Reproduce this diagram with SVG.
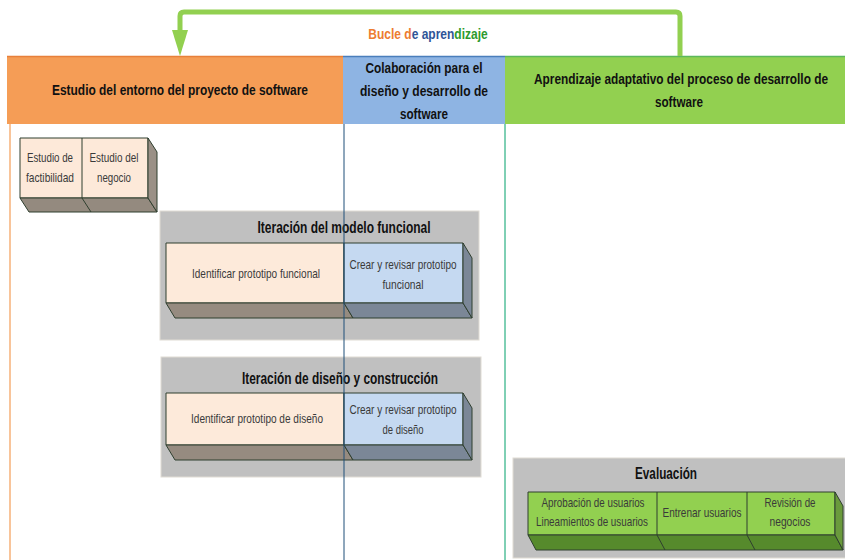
<svg xmlns="http://www.w3.org/2000/svg" width="845" height="560" viewBox="0 0 845 560">
  <defs>
    <style>
      text { font-family: "Liberation Sans", Arial, sans-serif; }
      .hdr { font-size: 15px; font-weight: bold; fill: #111; text-anchor: middle; }
      .ttl { font-size: 16px; font-weight: bold; fill: #111; text-anchor: middle; }
      .lbl { font-size: 13px; fill: #3a3a3a; text-anchor: middle; }
      .loop { font-size: 15px; font-weight: bold; text-anchor: middle; }
      .edge { stroke: #2f3f2f; stroke-width: 1; stroke-linejoin: round; }
      .panel { fill: #c0c0c0; stroke: #e0dcd4; stroke-width: 1; }
    </style>
  </defs>

  <!-- lane headers -->
  <g id="lane-estudio">
    <rect x="7" y="56" width="336" height="68" fill="#f59d56"/>
    <line x1="7" y1="56.5" x2="343" y2="56.5" stroke="#e8803a" stroke-width="1.5"/>
    <text class="hdr" x="180" y="95" textLength="256" lengthAdjust="spacingAndGlyphs">Estudio del entorno del proyecto de software</text>
  </g>
  <g id="lane-colaboracion">
    <rect x="343" y="56" width="162" height="68" fill="#8eb4e3"/>
    <line x1="343" y1="56.5" x2="505" y2="56.5" stroke="#4a7ebb" stroke-width="1.5"/>
    <text class="hdr" x="424" y="73" textLength="117" lengthAdjust="spacingAndGlyphs">Colaboración para el</text>
    <text class="hdr" x="424" y="96" textLength="128" lengthAdjust="spacingAndGlyphs">diseño y desarrollo de</text>
    <text class="hdr" x="424" y="119" textLength="48" lengthAdjust="spacingAndGlyphs">software</text>
  </g>
  <g id="lane-aprendizaje">
    <rect x="505" y="56" width="340" height="68" fill="#92d050"/>
    <line x1="505" y1="56.5" x2="845" y2="56.5" stroke="#5cb85c" stroke-width="1.5"/>
    <text class="hdr" transform="translate(681,84) scale(0.79,1)">Aprendizaje adaptativo del proceso de desarrollo de</text>
    <text class="hdr" x="679" y="107" textLength="48" lengthAdjust="spacingAndGlyphs">software</text>
  </g>

  <!-- early study boxes -->
  <g id="estudio-boxes">
    <rect x="20" y="138" width="128" height="60" fill="#fde9d9" class="edge"/>
    <polygon points="20,198 148,198 157,212 29,212" fill="#948a7f" class="edge"/>
    <polygon points="148,138 157,152 157,212 148,198" fill="#9a9086" class="edge"/>
    <line x1="82" y1="138" x2="82" y2="198" class="edge"/>
    <line x1="82" y1="198" x2="91" y2="212" class="edge"/>
    <text class="lbl" x="50" y="162" textLength="46" lengthAdjust="spacingAndGlyphs">Estudio de</text>
    <text class="lbl" x="50" y="182" textLength="48" lengthAdjust="spacingAndGlyphs">factibilidad</text>
    <text class="lbl" x="114" y="162" textLength="49" lengthAdjust="spacingAndGlyphs">Estudio del</text>
    <text class="lbl" x="114" y="182" textLength="34" lengthAdjust="spacingAndGlyphs">negocio</text>
  </g>

  <!-- functional model iteration -->
  <g id="iteracion-modelo">
    <rect x="160" y="211" width="319" height="129" class="panel"/>
    <text class="ttl" x="344" y="233" textLength="173" lengthAdjust="spacingAndGlyphs">Iteración del modelo funcional</text>
    <rect x="166" y="243" width="178" height="60" fill="#fdeada" class="edge"/>
    <rect x="344" y="243" width="119" height="60" fill="#c5d9f1" class="edge"/>
    <polygon points="166,303 344,303 353,318 175,318" fill="#968b80" class="edge"/>
    <polygon points="344,303 463,303 472,318 353,318" fill="#7b8797" class="edge"/>
    <polygon points="463,243 472,258 472,318 463,303" fill="#7b8797" class="edge"/>
    <text class="lbl" x="256" y="278" textLength="128" lengthAdjust="spacingAndGlyphs">Identificar prototipo funcional</text>
    <text class="lbl" x="403" y="269" textLength="107" lengthAdjust="spacingAndGlyphs">Crear y revisar prototipo</text>
    <text class="lbl" x="403" y="289" textLength="41" lengthAdjust="spacingAndGlyphs">funcional</text>
  </g>

  <!-- design and build iteration -->
  <g id="iteracion-diseno">
    <rect x="161" y="357" width="320" height="120" class="panel"/>
    <text class="ttl" x="340" y="384" textLength="196" lengthAdjust="spacingAndGlyphs">Iteración de diseño y construcción</text>
    <rect x="166" y="393" width="178" height="52" fill="#fdeada" class="edge"/>
    <rect x="344" y="393" width="119" height="52" fill="#c5d9f1" class="edge"/>
    <polygon points="166,445 344,445 353,460 175,460" fill="#968b80" class="edge"/>
    <polygon points="344,445 463,445 472,460 353,460" fill="#7b8797" class="edge"/>
    <polygon points="463,393 472,408 472,460 463,445" fill="#7b8797" class="edge"/>
    <text class="lbl" x="257" y="423" textLength="132" lengthAdjust="spacingAndGlyphs">Identificar prototipo de diseño</text>
    <text class="lbl" x="403" y="414" textLength="107" lengthAdjust="spacingAndGlyphs">Crear y revisar prototipo</text>
    <text class="lbl" x="403" y="434" textLength="41" lengthAdjust="spacingAndGlyphs">de diseño</text>
  </g>

  <!-- evaluation -->
  <g id="evaluacion">
    <rect x="513" y="458" width="340" height="100" class="panel"/>
    <text class="ttl" x="666" y="479" textLength="62" lengthAdjust="spacingAndGlyphs">Evaluación</text>
    <rect x="528" y="492" width="307" height="43" fill="#92d050" class="edge"/>
    <polygon points="528,535 835,535 843,550 536,550" fill="#568a2c" class="edge"/>
    <polygon points="835,492 843,506 843,550 835,535" fill="#6a9a3c" class="edge"/>
    <line x1="657" y1="492" x2="657" y2="535" class="edge"/>
    <line x1="657" y1="535" x2="665" y2="550" class="edge"/>
    <line x1="747" y1="492" x2="747" y2="535" class="edge"/>
    <line x1="747" y1="535" x2="755" y2="550" class="edge"/>
    <text class="lbl" x="593" y="507" textLength="103" lengthAdjust="spacingAndGlyphs">Aprobación de usuarios</text>
    <text class="lbl" x="592" y="526" textLength="112" lengthAdjust="spacingAndGlyphs">Lineamientos de usuarios</text>
    <text class="lbl" x="702" y="517" textLength="79" lengthAdjust="spacingAndGlyphs">Entrenar usuarios</text>
    <text class="lbl" x="790" y="507" textLength="51" lengthAdjust="spacingAndGlyphs">Revisión de</text>
    <text class="lbl" x="790" y="526" textLength="41" lengthAdjust="spacingAndGlyphs">negocios</text>
  </g>

  <!-- lane dividers and feedback loop -->
  <g id="connectors">
    <line x1="10" y1="124" x2="10" y2="560" stroke="#f8c49a" stroke-width="2"/>
    <line x1="344" y1="124" x2="344" y2="560" stroke="#1f4e79" stroke-width="1"/>
    <line x1="505" y1="124" x2="505" y2="560" stroke="#00a06a" stroke-width="1"/>
    <path d="M680,56 V16 Q680,12 676,12 H184 Q180,12 180,16 V32" fill="none" stroke="#92d050" stroke-width="5"/>
    <polygon points="172,30 188,30 180,56" fill="#92d050"/>
    <text class="loop" transform="translate(428,39) scale(0.8,1)"><tspan fill="#ed7d31">Bucle d</tspan><tspan fill="#2f5597">e apren</tspan><tspan fill="#2e9a2e">dizaje</tspan></text>
  </g>
</svg>
